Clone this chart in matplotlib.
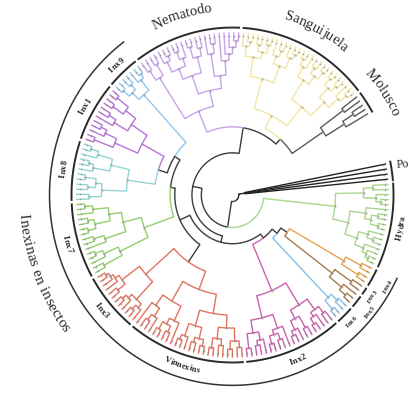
import numpy as np
import matplotlib
matplotlib.use('Agg')
import matplotlib.pyplot as plt
from matplotlib.font_manager import FontProperties

# clade topologies, newick-like: '*' is a tip, the number after ')' is the
# node height (tips sit at 1.0), upper-case names refer to other entries
TREE = ("(((((MOL,SAN)0.46,NEM)0.42,((((INX9,(INX1,INX8)0.5)0.44,INX7)0.4,"
        "(INX3,VINN)0.5)0.37,(INX2,(LB,(BR,OR)0.42)0.37)0.33)0.3)0.26,HYD)0.2,PO)0.04")
MOL = "((*,(*,*)0.92)0.84,(*,*)0.88)0.70"
SAN = ("(((((*,*)0.95,*)0.9,((*,*)0.94,(*,*)0.95)0.9)0.82,(((*,*)0.95,(*,*)0.94)0.9,"
       "(*,(*,*)0.95)0.91)0.84)0.7,((((*,*)0.95,*)0.92,((*,*)0.94,*)0.9)0.85,"
       "(((*,*)0.95,(*,*)0.94)0.9,((*,*)0.95,*)0.92)0.86)0.74)0.55")
NEM = ("(((((((*,*)0.95,*)0.91,*)0.87,*)0.83,((*,*)0.94,*)0.88)0.74,(((*,*)0.93,"
       "(*,*)0.95)0.88,((*,(*,*)0.95)0.9,((*,*)0.95,*)0.92)0.85)0.78)0.66,"
       "((*,*)0.94,(*,*)0.93)0.86)0.56")
INX9 = "(((*,*)0.95,*)0.92,((*,*)0.94,(*,*)0.95)0.9)0.84"
INX1 = "((((*,*)0.95,(*,*)0.94)0.86,((*,*)0.93,*)0.88)0.78,(((*,*)0.94,*)0.9,(*,*)0.95)0.82)0.66"
INX8 = "((((*,*)0.95,*)0.9,((*,*)0.94,*)0.91)0.8,(((*,*)0.95,(*,*)0.93)0.88,(*,*)0.92)0.84)0.68"
INX7 = ("(((((*,*)0.95,*)0.9,((*,*)0.94,(*,*)0.95)0.9)0.8,((*,*)0.93,*)0.86)0.72,"
        "(((*,*)0.95,*)0.9,(*,*)0.93)0.8)0.6")
INX3 = "(((((*,*)0.95,*)0.93,*)0.91,(*,*)0.94)0.88,(((*,*)0.95,*)0.92,((*,*)0.95,*)0.92)0.89)0.74"
VINN = ("(((*,((*,*)0.94,*)0.9)0.84,(((*,*)0.95,(*,*)0.94)0.9,*)0.86)0.76,"
        "((((*,*)0.95,*)0.92,((*,*)0.94,(*,*)0.95)0.91)0.84,(((*,*)0.95,(*,*)0.93)0.89,"
        "((*,*)0.95,(*,*)0.94)0.9)0.82)0.74)0.62")
INX2 = ("((((*,*)0.95,((*,*)0.94,*)0.91)0.86,(((*,*)0.95,(*,*)0.94)0.9,*)0.87)0.78,"
        "((((*,*)0.95,*)0.92,(*,*)0.94)0.86,(((*,*)0.95,*)0.91,(*,*)0.93)0.88)0.8)0.64")
LB = "((*,*)0.95,(*,*)0.93)0.88"
BR = "(BR5,BR3)0.8"
BR5 = "((*,*)0.95,*)0.9"
BR3 = "(*,*)0.93"
OR = "((*,*)0.94,(*,*)0.93)0.82"
HYD = ("((((((*,*)0.95,*)0.93,*)0.9,((*,*)0.94,*)0.9)0.84,(((*,*)0.95,(*,*)0.94)0.9,*)0.86)0.76,"
       "(((*,*)0.95,*)0.92,(*,*)0.9)0.84)0.66")
PO = "(*,*,*,*)0.08"

SRC = dict(TREE=TREE, MOL=MOL, SAN=SAN, NEM=NEM, INX9=INX9, INX1=INX1, INX8=INX8,
           INX7=INX7, INX3=INX3, VINN=VINN, INX2=INX2, LB=LB, BR=BR, BR5=BR5,
           BR3=BR3, OR=OR, HYD=HYD, PO=PO)

COLORS = {'TREE': '#3c3c3c', 'MOL': '#5a5a5a', 'SAN': '#f3e6a2', 'NEM': '#c9a3ea',
          'INX9': '#8fc8ef', 'INX1': '#b873d8', 'INX8': '#93d4d4', 'INX7': '#92cf6c',
          'INX3': '#e2735f', 'VINN': '#e2735f', 'INX2': '#c962ad', 'LB': '#84c2ee',
          'BR': '#a87b4e', 'OR': '#e9a24c', 'HYD': '#a9d68d', 'PO': '#222222'}

groups = ['MOL', 'SAN', 'NEM', 'INX9', 'INX1', 'INX8', 'INX7', 'INX3', 'VINN',
          'INX2', 'LB', 'BR5', 'BR3', 'OR', 'HYD']
group_labels = ['Molusco', 'Sanguijuela', 'Nematodo', 'Inx9', 'Inx1', 'Inx8', 'Inx7',
                'Inx3', 'Vinnexins', 'Inx2', 'Inx6', 'Inx5', 'Inx3', 'Inx4', 'Hydra']
big_groups = ['MOL', 'SAN', 'NEM']
# small neighbouring clades get their labels staggered outwards
tight_groups = {'LB': 170, 'BR5': 177, 'BR3': 170, 'OR': 178}
insects = ['INX9', 'OR']          # first and last clade under the outer bracket
insect_label = 'Inexinas en insectos'


def parse(name, color=None):
    s = SRC[name]
    color = COLORS.get(name, color)
    pos = 0

    def number():
        nonlocal pos
        st = pos
        while pos < len(s) and (s[pos].isdigit() or s[pos] == '.'):
            pos += 1
        return float(s[st:pos])

    def node():
        nonlocal pos
        c = s[pos]
        if c == '(':
            pos += 1
            kids = [node()]
            while s[pos] == ',':
                pos += 1
                kids.append(node())
            pos += 1
            return {'h': number(), 'kids': kids, 'color': color}
        if c == '*':
            pos += 1
            return {'h': 1.0, 'kids': [], 'color': color}
        st = pos
        while pos < len(s) and (s[pos].isalnum()):
            pos += 1
        return parse(s[st:pos], color)

    n = node()
    n['name'] = name
    return n


root = parse('TREE')

# ---- layout --------------------------------------------------------------
R_TIP = 156.0
TH0, TH1 = 30.0, 371.0     # open fan between the last and first tip


def tips(n):
    if not n['kids']:
        return [n]
    out = []
    for k in n['kids']:
        out += tips(k)
    return out


all_tips = tips(root)
step = (TH1 - TH0) / (len(all_tips) - 1)
for i, t in enumerate(all_tips):
    t['th'] = TH0 + i * step


def set_angles(n):
    if n['kids']:
        for k in n['kids']:
            set_angles(k)
        n['th'] = np.mean([k['th'] for k in n['kids']])


set_angles(root)

named = {}


def collect(n):
    if 'name' in n:
        named[n['name']] = n
    for k in n['kids']:
        collect(k)


collect(root)


def pol(r, th):
    th = np.radians(th)
    return r * np.cos(th), r * np.sin(th)


fig = plt.figure(figsize=(4.11, 3.94), dpi=100)
ax = fig.add_axes([0, 0, 1, 1])
ax.set_xlim(-232.5, 178.5)
ax.set_ylim(-191.3, 187.5)
ax.axis('off')


def arc(r, a, b, **kw):
    n = max(int(abs(b - a) * 2) + 2, 2)
    th = np.linspace(a, b, n)
    x, y = pol(r, th)
    ax.plot(x, y, **kw)


# branches: arc at the parent radius, then the radial segment
def draw(n, parent=None):
    if parent is not None:
        rp = parent['h'] * R_TIP
        th = np.linspace(parent['th'], n['th'], max(int(abs(n['th'] - parent['th']) * 2) + 2, 2))
        rr = np.full_like(th, rp)
        th = np.append(th, n['th'])
        rr = np.append(rr, n['h'] * R_TIP)
        x, y = pol(rr, th)
        ax.plot(x, y, color=n['color'], lw=1.0, solid_joinstyle='round',
                solid_capstyle='round', zorder=2)
    for k in n['kids']:
        draw(k, n)


draw(root)

# node and tip markers
inner = []


def gather(n):
    if n['kids'] and n['color'] not in (COLORS['TREE'], COLORS['PO']):
        inner.append(n)
    for k in n['kids']:
        gather(k)


gather(root)
ix, iy = pol(np.array([n['h'] * R_TIP for n in inner]), np.array([n['th'] for n in inner]))
ax.scatter(ix, iy, s=2.5, color='#9a9a9a', alpha=0.7, lw=0, zorder=3)
tx, ty = pol(np.full(len(all_tips), R_TIP - 3), np.array([t['th'] for t in all_tips]))
ax.scatter(tx, ty, s=1.4, color='#8a8a8a', alpha=0.8, lw=0, zorder=3)

# ---- clade brackets and labels ------------------------------------------
renderer = fig.canvas.get_renderer()


def arc_text(txt, r, thc, size, weight='normal'):
    fp = FontProperties(family='Liberation Serif', size=size, weight=weight)
    px = size * fig.dpi / 72.0
    widths = []
    for ch in txt:
        w, _, _ = renderer.get_text_width_height_descent(ch, fp, ismath=False)
        if ch == ' ':
            w = 0.28 * px
        widths.append(w)
    span = np.degrees(sum(widths) / r)
    upper = 0 < (thc % 360) < 180
    sgn = -1 if upper else 1
    rb = r - 0.33 * px if upper else r + 0.33 * px
    start = thc - sgn * span / 2
    cum = 0.0
    for ch, w in zip(txt, widths):
        th = start + sgn * np.degrees((cum + w / 2) / rb)
        rot = th - 90 if upper else th + 90
        x, y = pol(rb, th)
        ax.text(x, y, ch, fontproperties=fp, rotation=rot, rotation_mode='anchor',
                ha='center', va='baseline', color='#2b2b2b')
        cum += w


half = step / 2
for g, lab in zip(groups, group_labels):
    ts = tips(named[g])
    a, b = ts[0]['th'] - half + 0.45, ts[-1]['th'] + half - 0.45
    arc(161, a, b, color='#2a2a2a', lw=1.4, solid_capstyle='butt')
    mid = (a + b) / 2
    if g in big_groups:
        arc_text(lab, 182, mid, 10.5)
    elif g in tight_groups:
        arc_text(lab, tight_groups[g], mid, 5.0, 'bold')
    else:
        arc_text(lab, 171, mid, 6.2, 'bold')

ts = tips(named['PO'])
arc(161, ts[0]['th'] - half + 0.4, ts[-1]['th'] + half - 0.4, color='#2a2a2a', lw=1.4)
px, py = pol(166, ts[-1]['th'] - 1)
ax.text(px, py, 'Po', fontfamily='Liberation Serif', fontsize=8.5, ha='left',
        va='center', rotation=4, color='#2b2b2b')

a = tips(named[insects[0]])[0]['th'] - half
b = tips(named[insects[1]])[-1]['th'] + half
arc(183, a, b, color='#333333', lw=1.1)
arc_text(insect_label, 209, 202, 11)

fig.savefig('out.png', dpi=100)
